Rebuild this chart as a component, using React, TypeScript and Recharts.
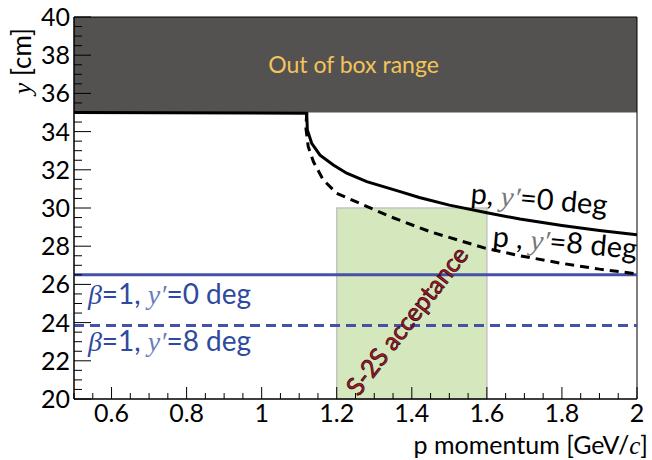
import React from 'react';
import {
  ComposedChart,
  Line,
  XAxis,
  YAxis,
  ReferenceArea,
  ReferenceLine,
  ReferenceDot,
} from 'recharts';

// proton, y' = 0 deg (flat at the box edge, then falling)
const pZeroDeg = [
  { p: 0.5, y: 35 },
  { p: 1.12, y: 34.96 },
  { p: 1.1217, y: 34.08 },
  { p: 1.1333, y: 33.39 },
  { p: 1.1555, y: 32.77 },
  { p: 1.191, y: 32.25 },
  { p: 1.2266, y: 31.82 },
  { p: 1.28, y: 31.38 },
  { p: 1.369, y: 30.86 },
  { p: 1.42, y: 30.55 },
  { p: 1.5, y: 30.15 },
  { p: 1.6, y: 29.75 },
  { p: 1.688, y: 29.42 },
  { p: 1.8, y: 29.08 },
  { p: 1.9, y: 28.82 },
  { p: 2.0, y: 28.6 },
];

// proton, y' = 8 deg
const pEightDeg = [
  { p: 1.12, y: 35 },
  { p: 1.118, y: 34.17 },
  { p: 1.124, y: 33.21 },
  { p: 1.138, y: 32.42 },
  { p: 1.164, y: 31.47 },
  { p: 1.2, y: 30.77 },
  { p: 1.262, y: 30.24 },
  { p: 1.342, y: 29.55 },
  { p: 1.45, y: 28.75 },
  { p: 1.595, y: 27.9 },
  { p: 1.688, y: 27.5 },
  { p: 1.8, y: 27.1 },
  { p: 1.9, y: 26.8 },
  { p: 2.0, y: 26.55 },
];

const betaZeroDeg = 26.5;
const betaEightDeg = 23.85;
const boxEdge = 35;
const acceptance = { pMin: 1.2, pMax: 1.6, yMax: 30 };

const xMajorTicks = [0.6, 0.8, 1, 1.2, 1.4, 1.6, 1.8, 2];
const yMajorTicks = [20, 22, 24, 26, 28, 30, 32, 34, 36, 38, 40];

const xTicks: number[] = [];
for (let i = 10; i <= 40; i++) xTicks.push(Math.round(i * 5) / 100);
const yTicks: number[] = [];
for (let i = 40; i <= 80; i++) yTicks.push(i / 2);

const FONT = 'Lato, "Open Sans", sans-serif';
const SERIF = '"Liberation Serif", "DejaVu Serif", serif';
const BLUE_LINE = '#4550a8';
const BLUE_TEXT = '#2e4a9e';

const isMajor = (list: number[], v: number) => list.some((m) => Math.abs(m - v) < 1e-6);

const XTick = ({ x, y, payload }: any) => {
  const major = isMajor(xMajorTicks, payload.value);
  return (
    <g>
      <line x1={x} x2={x} y1={y} y2={y - (major ? 12 : 6)} stroke="#000" strokeWidth={1} />
      {major && (
        <text x={x} y={y + 23} textAnchor="middle" fontFamily={FONT} fontSize={25} fill="#000">
          {String(payload.value)}
        </text>
      )}
    </g>
  );
};

const YTick = ({ x, y, payload }: any) => {
  const major = isMajor(yMajorTicks, payload.value);
  return (
    <g>
      <line x1={x} x2={x + (major ? 17 : 8)} y1={y} y2={y} stroke="#000" strokeWidth={1} />
      {major && (
        <text x={x - 4} y={y + 9} textAnchor="end" fontFamily={FONT} fontSize={25} fill="#000">
          {String(payload.value)}
        </text>
      )}
    </g>
  );
};

// y' written in italic serif, as in the formula labels
const YPrime = ({ fill }: { fill: string }) => (
  <tspan fontFamily={SERIF} fontStyle="italic" fill={fill}>
    y′
  </tspan>
);

const curveLabel = (text: React.ReactNode, angle: number, fill: string, size: number) =>
  (props: any) => {
    const { x, y } = props.viewBox;
    return (
      <text
        x={x}
        y={y}
        transform={`rotate(${angle} ${x} ${y})`}
        fontFamily={FONT}
        fontSize={size}
        fill={fill}
      >
        {text}
      </text>
    );
  };

const boxLabel = (props: any) => {
  const { x, y, width, height } = props.viewBox;
  return (
    <text
      x={x + width / 2 - 2}
      y={y + height / 2 + 8}
      textAnchor="middle"
      fontFamily={FONT}
      fontSize={23}
      fill="#f2c45a"
    >
      Out of box range
    </text>
  );
};

const acceptanceLabel = (props: any) => {
  const { x, y } = props.viewBox;
  return (
    <text
      x={x}
      y={y}
      transform={`rotate(-52 ${x} ${y})`}
      textAnchor="middle"
      dominantBaseline="central"
      fontFamily={FONT}
      fontSize={25}
      fill="#b0182e"
      stroke="#2a0008"
      strokeWidth={0.7}
    >
      S-2S acceptance
    </text>
  );
};

export default function App() {
  return (
    <div style={{ position: 'absolute', left: 0, top: 0, background: '#fff' }}>
      <ComposedChart
        width={652}
        height={460}
        margin={{ top: 17, right: 15, left: 14, bottom: 21 }}
      >
        <XAxis
          type="number"
          dataKey="p"
          domain={[0.5, 2]}
          ticks={xTicks}
          interval={0}
          allowDataOverflow
          height={40}
          tickSize={0}
          tickMargin={0}
          tickLine={false}
          axisLine={{ stroke: '#000' }}
          tick={<XTick />}
        />
        <YAxis
          type="number"
          dataKey="y"
          domain={[20, 40]}
          ticks={yTicks}
          interval={0}
          allowDataOverflow
          width={60}
          tickSize={0}
          tickMargin={0}
          tickLine={false}
          axisLine={{ stroke: '#000' }}
          tick={<YTick />}
        />
        <ReferenceArea
          x1={0.5}
          x2={2}
          y1={boxEdge}
          y2={40}
          fill="#545250"
          fillOpacity={1}
          stroke="none"
          label={boxLabel}
        />
        <ReferenceArea
          x1={acceptance.pMin}
          x2={acceptance.pMax}
          y1={20}
          y2={acceptance.yMax}
          fill="#d4e7bd"
          fillOpacity={1}
          stroke="#c4c4c4"
          strokeWidth={1.5}
        />
        <ReferenceLine y={betaZeroDeg} stroke={BLUE_LINE} strokeWidth={3} />
        <ReferenceLine y={betaEightDeg} stroke={BLUE_LINE} strokeWidth={3} strokeDasharray="10 6" />
        <Line
          data={pEightDeg}
          dataKey="y"
          type="linear"
          stroke="#000"
          strokeWidth={3}
          strokeDasharray="9 6"
          dot={false}
          isAnimationActive={false}
        />
        <Line
          data={pZeroDeg}
          dataKey="y"
          type="linear"
          stroke="#000"
          strokeWidth={3}
          dot={false}
          isAnimationActive={false}
        />
        <ReferenceDot x={1.385} y={24.14} r={0} label={acceptanceLabel} />
        <ReferenceDot
          x={1.555}
          y={30.25}
          r={0}
          label={curveLabel(<>p, <YPrime fill="#777" />=0 deg</>, 5, '#000', 29)}
        />
        <ReferenceDot
          x={1.614}
          y={28.0}
          r={0}
          ifOverflow="visible"
          label={curveLabel(<>p , <YPrime fill="#777" />=8 deg</>, 5, '#000', 29)}
        />
        <ReferenceDot
          x={0.537}
          y={25.0}
          r={0}
          label={curveLabel(
            <><tspan fontFamily={SERIF} fontStyle="italic">β</tspan>=1, <YPrime fill="#6a7cc0" />=0 deg</>,
            0,
            BLUE_TEXT,
            28,
          )}
        />
        <ReferenceDot
          x={0.537}
          y={22.5}
          r={0}
          label={curveLabel(
            <><tspan fontFamily={SERIF} fontStyle="italic">β</tspan>=1, <YPrime fill="#6a7cc0" />=8 deg</>,
            0,
            BLUE_TEXT,
            28,
          )}
        />
        <ReferenceArea
          x1={0.5}
          x2={2}
          y1={20}
          y2={40}
          fill="none"
          stroke="#000"
          strokeWidth={1}
        />
        <text
          x={648}
          y={454}
          textAnchor="end"
          fontFamily={FONT}
          fontSize={25}
          fill="#000"
        >
          p momentum [GeV/
          <tspan fontFamily={SERIF} fontStyle="italic">c</tspan>]
        </text>
        <text
          x={31}
          y={28}
          transform="rotate(-90 31 28)"
          textAnchor="end"
          fontFamily={FONT}
          fontSize={26}
          fill="#000"
        >
          <tspan fontFamily={SERIF} fontStyle="italic">y</tspan> [cm]
        </text>
      </ComposedChart>
    </div>
  );
}
